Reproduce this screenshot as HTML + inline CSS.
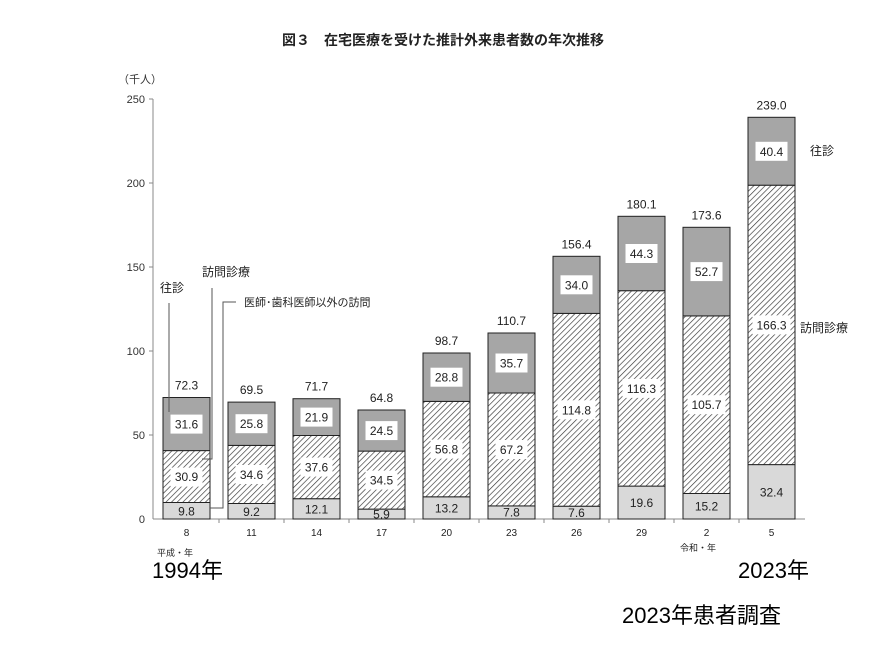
<!DOCTYPE html>
<html><head><meta charset="utf-8"><style>
body{margin:0;background:#fff;}
svg{display:block;font-family:"Liberation Sans","Noto Sans CJK JP",sans-serif;}
</style></head><body>
<svg width="886" height="664" viewBox="0 0 886 664" xmlns="http://www.w3.org/2000/svg">
<defs>
<pattern id="h" patternUnits="userSpaceOnUse" width="4" height="4" patternTransform="rotate(45)">
<rect width="4" height="4" fill="#fff"/><line x1="0" y1="0" x2="0" y2="4" stroke="#333" stroke-width="1.3"/>
</pattern>
</defs>
<text x="443" y="45" font-size="14" font-weight="bold" text-anchor="middle" fill="#222">図３　在宅医療を受けた推計外来患者数の年次推移</text>
<text x="118" y="83" font-size="11" fill="#333">（千人）</text>
<g font-size="11" fill="#333" text-anchor="end">
<text x="145" y="103">250</text><text x="145" y="187">200</text><text x="145" y="271">150</text>
<text x="145" y="355">100</text><text x="145" y="439">50</text><text x="145" y="523">0</text>
</g>
<g stroke="#888" stroke-width="1">
<line x1="153" y1="99" x2="153" y2="519"/>
<line x1="149" y1="99" x2="153" y2="99"/><line x1="149" y1="183" x2="153" y2="183"/>
<line x1="149" y1="267" x2="153" y2="267"/><line x1="149" y1="351" x2="153" y2="351"/>
<line x1="149" y1="435" x2="153" y2="435"/>
<line x1="153" y1="519" x2="805" y2="519"/>
<line x1="219" y1="519" x2="219" y2="523"/><line x1="284" y1="519" x2="284" y2="523"/>
<line x1="349" y1="519" x2="349" y2="523"/><line x1="414" y1="519" x2="414" y2="523"/>
<line x1="479" y1="519" x2="479" y2="523"/><line x1="544" y1="519" x2="544" y2="523"/>
<line x1="609" y1="519" x2="609" y2="523"/><line x1="674" y1="519" x2="674" y2="523"/>
<line x1="739" y1="519" x2="739" y2="523"/>
</g>
<g stroke="#222" stroke-width="1">
<rect x="163" y="502.5" width="47" height="16.5" fill="#d9d9d9"/><rect x="163" y="450.6" width="47" height="51.9" fill="url(#h)"/><rect x="163" y="397.5" width="47" height="53.1" fill="#a6a6a6"/>
<rect x="228" y="503.5" width="47" height="15.5" fill="#d9d9d9"/><rect x="228" y="445.4" width="47" height="58.1" fill="url(#h)"/><rect x="228" y="402.1" width="47" height="43.3" fill="#a6a6a6"/>
<rect x="293" y="498.7" width="47" height="20.3" fill="#d9d9d9"/><rect x="293" y="435.5" width="47" height="63.2" fill="url(#h)"/><rect x="293" y="398.7" width="47" height="36.8" fill="#a6a6a6"/>
<rect x="358" y="509.1" width="47" height="9.9" fill="#d9d9d9"/><rect x="358" y="451.1" width="47" height="58" fill="url(#h)"/><rect x="358" y="410" width="47" height="41.1" fill="#a6a6a6"/>
<rect x="423" y="496.8" width="47" height="22.2" fill="#d9d9d9"/><rect x="423" y="401.4" width="47" height="95.4" fill="url(#h)"/><rect x="423" y="353" width="47" height="48.4" fill="#a6a6a6"/>
<rect x="488" y="505.9" width="47" height="13.1" fill="#d9d9d9"/><rect x="488" y="393" width="47" height="112.9" fill="url(#h)"/><rect x="488" y="333" width="47" height="60" fill="#a6a6a6"/>
<rect x="553" y="506.2" width="47" height="12.8" fill="#d9d9d9"/><rect x="553" y="313.4" width="47" height="192.8" fill="url(#h)"/><rect x="553" y="256.3" width="47" height="57.1" fill="#a6a6a6"/>
<rect x="618" y="486.1" width="47" height="32.9" fill="#d9d9d9"/><rect x="618" y="290.7" width="47" height="195.4" fill="url(#h)"/><rect x="618" y="216.3" width="47" height="74.4" fill="#a6a6a6"/>
<rect x="683" y="493.5" width="47" height="25.5" fill="#d9d9d9"/><rect x="683" y="315.9" width="47" height="177.6" fill="url(#h)"/><rect x="683" y="227.3" width="47" height="88.6" fill="#a6a6a6"/>
<rect x="748" y="464.6" width="47" height="54.4" fill="#d9d9d9"/><rect x="748" y="185.2" width="47" height="279.4" fill="url(#h)"/><rect x="748" y="117.3" width="47" height="67.9" fill="#a6a6a6"/>
</g>
<g fill="#fff">
<rect x="170.5" y="467.6" width="32" height="19"/><rect x="170.5" y="414.6" width="32" height="19"/>
<rect x="235.5" y="465" width="32" height="19"/><rect x="235.5" y="414.2" width="32" height="19"/>
<rect x="300.5" y="457.6" width="32" height="19"/><rect x="300.5" y="407.6" width="32" height="19"/>
<rect x="365.5" y="470.6" width="32" height="19"/><rect x="365.5" y="421.1" width="32" height="19"/>
<rect x="430.5" y="439.6" width="32" height="19"/><rect x="430.5" y="367.7" width="32" height="19"/>
<rect x="495.5" y="440" width="32" height="19"/><rect x="495.5" y="353.5" width="32" height="19"/>
<rect x="557.5" y="400.3" width="38" height="19"/><rect x="560.5" y="275.3" width="32" height="19"/>
<rect x="622.5" y="378.9" width="38" height="19"/><rect x="625.5" y="244" width="32" height="19"/>
<rect x="687.5" y="395.2" width="38" height="19"/><rect x="690.5" y="262.1" width="32" height="19"/>
<rect x="752.5" y="315.4" width="38" height="19"/><rect x="755.5" y="141.8" width="32" height="19"/>
</g>
<g font-size="12" text-anchor="middle" fill="#222">
<text x="186.5" y="515.5">9.8</text><text x="186.5" y="481.1">30.9</text><text x="186.5" y="428.6">31.6</text><text x="186.5" y="389.5">72.3</text>
<text x="251.5" y="516">9.2</text><text x="251.5" y="479">34.6</text><text x="251.5" y="428.2">25.8</text><text x="251.5" y="394">69.5</text>
<text x="316.5" y="513.5">12.1</text><text x="316.5" y="471.6">37.6</text><text x="316.5" y="421.6">21.9</text><text x="316.5" y="390.7">71.7</text>
<text x="381.5" y="518.5">5.9</text><text x="381.5" y="484.6">34.5</text><text x="381.5" y="435.1">24.5</text><text x="381.5" y="402">64.8</text>
<text x="446.5" y="512.5">13.2</text><text x="446.5" y="453.6">56.8</text><text x="446.5" y="381.7">28.8</text><text x="446.5" y="345">98.7</text>
<text x="511.5" y="516.5">7.8</text><text x="511.5" y="454">67.2</text><text x="511.5" y="367.5">35.7</text><text x="511.5" y="325">110.7</text>
<text x="576.5" y="517">7.6</text><text x="576.5" y="414.3">114.8</text><text x="576.5" y="289.3">34.0</text><text x="576.5" y="248.3">156.4</text>
<text x="641.5" y="507">19.6</text><text x="641.5" y="392.9">116.3</text><text x="641.5" y="258">44.3</text><text x="641.5" y="208.3">180.1</text>
<text x="706.5" y="510.5">15.2</text><text x="706.5" y="409.2">105.7</text><text x="706.5" y="276.1">52.7</text><text x="706.5" y="219.3">173.6</text>
<text x="771.5" y="496.3">32.4</text><text x="771.5" y="329.4">166.3</text><text x="771.5" y="155.8">40.4</text><text x="771.5" y="109.3">239.0</text>
</g>
<g font-size="10" text-anchor="middle" fill="#222">
<text x="186.5" y="536">8</text><text x="251.5" y="536">11</text><text x="316.5" y="536">14</text><text x="381.5" y="536">17</text>
<text x="446.5" y="536">20</text><text x="511.5" y="536">23</text><text x="576.5" y="536">26</text><text x="641.5" y="536">29</text>
<text x="706.5" y="536">2</text><text x="771.5" y="536">5</text>
</g>
<g stroke="#555" stroke-width="1" fill="none">
<polyline points="169,303 169,412"/>
<polyline points="212,288 212,459 202,459"/>
<polyline points="236,302 223,302 223,508 210,508"/>
</g>
<g font-size="12" fill="#222">
<text x="160" y="292">往診</text>
<text x="202" y="276">訪問診療</text>
<text x="244" y="306" font-size="11">医師･歯科医師以外の訪問</text>
<text x="810" y="155">往診</text>
<text x="800" y="332">訪問診療</text>
</g>
<text x="157" y="556" font-size="9" fill="#222">平成・年</text>
<text x="680" y="551" font-size="9" fill="#222">令和・年</text>
<text x="152" y="578" font-size="22" fill="#000">1994年</text>
<text x="738" y="578" font-size="22" fill="#000">2023年</text>
<text x="622" y="623" font-size="22" fill="#000">2023年患者調査</text>
</svg>
</body></html>
